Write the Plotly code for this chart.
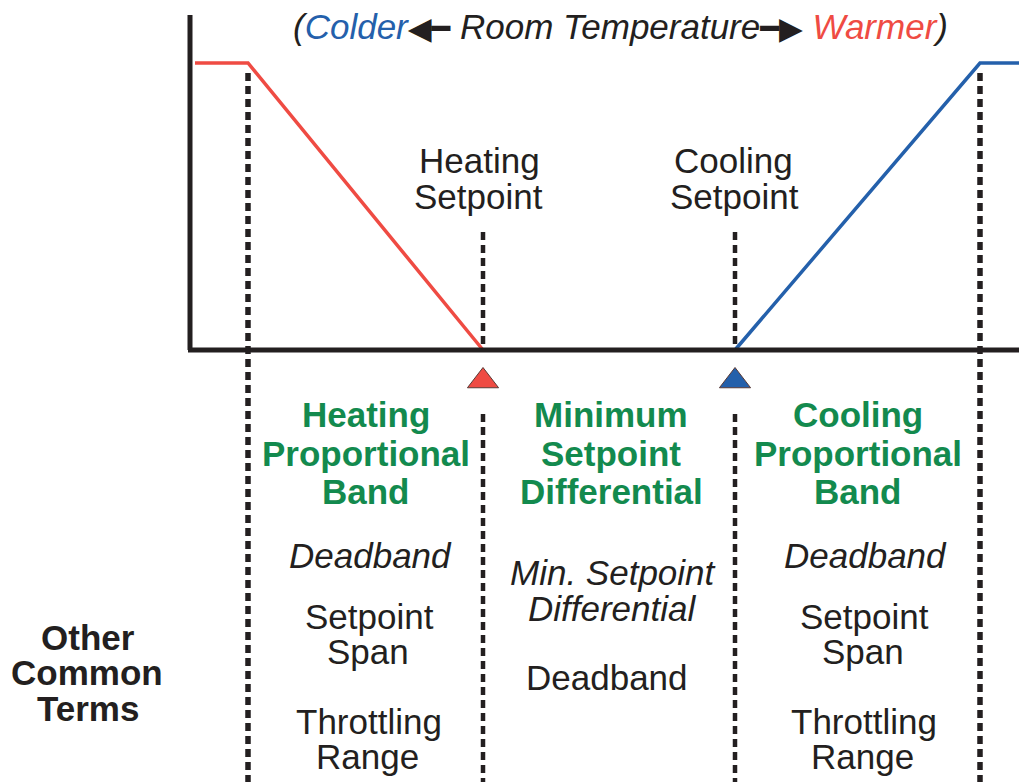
import plotly.graph_objects as go

# ---- schematic data (diagram units along the room-temperature axis; output in %) ----
heating_x = [195, 248, 483]
heating_output = [100, 100, 0]
cooling_x = [735, 980, 1019]
cooling_output = [0, 100, 100]

setpoint_x = [483, 735]            # heating setpoint, cooling setpoint
setpoint_colors = ["#ef4b43", "#2460ab"]
band_edge_x = [248, 980]           # full-output edges of the proportional bands

band_titles = [
    ["Heating", "Proportional", "Band"],
    ["Minimum", "Setpoint", "Differential"],
    ["Cooling", "Proportional", "Band"],
]

W, H = 1019, 782
BASE_PX, SCALE = 350, 2.87          # pixel of 0 % output, px per % output


def yv(py):
    """pixel row -> output value on the y axis"""
    return (BASE_PX - py) / SCALE


def px(x):
    return x / W


def py(y):
    return 1 - y / H


INK = "#231f20"
GREEN = "#138a4e"
FONT = "Liberation Sans, Arial, Helvetica, sans-serif"
FS = 35

fig = go.Figure()

# heating & cooling output lines
fig.add_trace(go.Scatter(x=heating_x, y=heating_output, mode="lines",
                         line=dict(color=setpoint_colors[0], width=3.5),
                         hoverinfo="skip", showlegend=False))
fig.add_trace(go.Scatter(x=cooling_x, y=cooling_output, mode="lines",
                         line=dict(color=setpoint_colors[1], width=3.5),
                         hoverinfo="skip", showlegend=False))

# setpoint triangles
fig.add_trace(go.Scatter(x=setpoint_x, y=[yv(381)] * 2, mode="markers",
                         marker=dict(symbol="triangle-up", size=27,
                                     color=setpoint_colors,
                                     line=dict(color="#5a3a36", width=1)),
                         hoverinfo="skip", showlegend=False))

shapes = []
# axes
shapes.append(dict(type="line", xref="x", yref="y", x0=190, x1=190, y0=yv(15), y1=0,
                   line=dict(color=INK, width=5)))
shapes.append(dict(type="line", xref="x", yref="y", x0=188, x1=1019, y0=0, y1=0,
                   line=dict(color=INK, width=5)))
# band edge dashed lines
for bx in band_edge_x:
    shapes.append(dict(type="line", xref="x", yref="y", x0=bx, x1=bx, y0=yv(73), y1=yv(782),
                       line=dict(color=INK, width=5.5, dash="8px,5px")))
# setpoint dashed lines (above and below the triangles)
for sx in setpoint_x:
    shapes.append(dict(type="line", xref="x", yref="y", x0=sx, x1=sx, y0=yv(232), y1=yv(346),
                       line=dict(color=INK, width=4.5, dash="8px,5px")))
    shapes.append(dict(type="line", xref="x", yref="y", x0=sx, x1=sx, y0=yv(414), y1=yv(782),
                       line=dict(color=INK, width=4.5, dash="8px,5px")))

ann = []


def text(x, y, s, size=FS, color=INK, bold=False, italic=False):
    t = s
    if bold:
        t = f"<b>{t}</b>"
    if italic:
        t = f"<i>{t}</i>"
    ann.append(dict(x=px(x), y=py(y), xref="paper", yref="paper", text=t, showarrow=False,
                    xanchor="center", yanchor="middle",
                    font=dict(family=FONT, size=size, color=color)))


# title
ARW = "font-family:DejaVu Sans;font-size:31px;font-style:normal;font-weight:bold"
ann.append(dict(
    x=px(620), y=py(26), xref="paper", yref="paper", showarrow=False,
    xanchor="center", yanchor="middle",
    text="<i>(<span style='color:#2460ab'>Colder</span></i>"
         f"<span style='{ARW}'>◀━</span><i> Room Temperature</i>"
         f"<span style='{ARW}'>━▶</span><i> "
         "<span style='color:#ef4b43'>Warmer</span>)</i>",
    font=dict(family=FONT, size=FS, color=INK)))

# setpoint labels
text(479, 161, "Heating")
text(478, 196, "Setpoint")
text(733, 161, "Cooling")
text(734, 196, "Setpoint")

# green band titles
for cx, lines in zip([366, 611, 858], band_titles):
    for ly, s in zip([414, 453, 491], lines):
        text(cx, ly, s, color=GREEN, bold=True)

# other terms - left and right bands
for cx in [369, 864]:
    text(cx + 1, 555, "Deadband", italic=True)
    text(cx, 616, "Setpoint")
    text(cx - 1, 651, "Span")
    text(cx, 721, "Throttling")
    text(cx - 2, 756, "Range")

# middle band
text(613, 572, "Min. Setpoint", italic=True)
text(612, 608, "Differential", italic=True)
text(607, 677, "Deadband")

# row label
text(88, 637, "Other", bold=True)
text(87, 672, "Common", bold=True)
text(88, 708, "Terms", bold=True)

fig.update_layout(
    width=W, height=H,
    margin=dict(l=0, r=0, t=0, b=0),
    paper_bgcolor="white", plot_bgcolor="white",
    xaxis=dict(range=[0, W], visible=False, fixedrange=True),
    yaxis=dict(range=[yv(H), yv(0)], visible=False, fixedrange=True),
    shapes=shapes, annotations=ann, showlegend=False,
)

fig.write_html("out.html", config={"displayModeBar": False},
               post_script="document.body.style.margin='0';")
